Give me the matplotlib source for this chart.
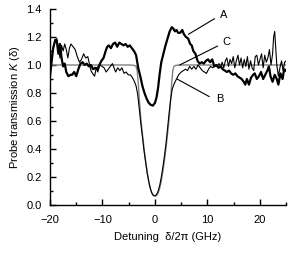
import matplotlib
matplotlib.use("Agg")
import matplotlib.pyplot as plt
from matplotlib.ticker import MultipleLocator, FormatStrFormatter

plt.rcParams['font.family'] = ['Liberation Sans', 'DejaVu Sans']
plt.rcParams['mathtext.fontset'] = 'custom'
plt.rcParams['mathtext.rm'] = 'Liberation Sans'
plt.rcParams['mathtext.it'] = 'Liberation Sans:italic'

# Curve A (thick)
a_x = [-20.0, -19.7, -19.4, -19.0, -18.7, -18.4, -18.1, -17.8, -17.5, -17.2, -16.9, -16.5, -16.1, -15.8,
       -15.4, -15.0, -14.6, -14.2, -13.8, -13.4, -13.0, -12.6, -12.2, -11.8, -11.4, -11.0, -10.6, -10.2,
       -9.8, -9.4, -9.1, -8.8, -8.4, -8.0, -7.6, -7.2, -6.8, -6.4, -6.0, -5.6, -5.2, -4.8, -4.4, -4.0,
       -3.6, -3.2, -2.8, -2.4, -2.0, -1.6, -1.2, -0.8, -0.4, 0.0, 0.3, 0.6, 0.9, 1.2, 1.6, 2.0, 2.4, 2.8,
       3.2, 3.5, 3.8, 4.1, 4.4, 4.8, 5.2, 5.5, 5.9, 6.3, 6.7, 7.0, 7.3, 7.7, 8.1, 8.5, 8.9, 9.3, 9.7,
       10.1, 10.5, 10.9, 11.3, 11.7, 12.1, 12.5, 12.9, 13.3, 13.7, 14.1, 14.5, 14.9, 15.3, 15.7, 16.1,
       16.5, 16.9, 17.2, 17.5, 17.9, 18.3, 18.7, 19.0, 19.4, 19.8, 20.2, 20.6, 21.0, 21.4, 21.7, 22.0,
       22.4, 22.8, 23.2, 23.5, 23.9, 24.3, 24.6, 24.9]
a_y = [0.92, 1.02, 1.12, 1.18, 1.17, 1.08, 1.15, 1.05, 0.99, 1.01, 0.95, 0.92, 0.93, 0.93,
       0.95, 0.92, 0.97, 1.01, 1.02, 1.00, 1.01, 0.99, 1.00, 0.97, 0.98, 0.97, 1.00, 1.03,
       1.05, 1.10, 1.13, 1.14, 1.12, 1.15, 1.16, 1.13, 1.16, 1.15, 1.14, 1.15, 1.13, 1.14, 1.12, 1.10,
       1.07, 0.98, 0.92, 0.85, 0.80, 0.76, 0.73, 0.715, 0.71, 0.73, 0.77, 0.84, 0.94, 1.02, 1.08, 1.14, 1.19, 1.24,
       1.27, 1.26, 1.24, 1.25, 1.23, 1.23, 1.25, 1.22, 1.20, 1.19, 1.15, 1.14, 1.10, 1.08, 1.03, 1.01, 1.02, 1.01, 1.03,
       1.04, 1.02, 1.04, 0.99, 1.00, 0.98, 0.99, 0.97, 0.96, 0.95, 0.96, 0.94, 0.93, 0.94, 0.92, 0.91,
       0.90, 0.88, 0.86, 0.90, 0.86, 0.91, 0.93, 0.94, 0.90, 0.92, 0.95, 0.90, 0.93, 0.96, 0.99, 0.92,
       0.88, 0.93, 0.90, 0.86, 0.94, 0.90, 0.97, 0.96]

# Curve B (thin)
b_x = [-20.0, -19.7, -19.4, -19.0, -18.7, -18.4, -18.1, -17.8, -17.5, -17.2, -16.9, -16.6, -16.3, -16.0,
       -15.6, -15.2, -14.8, -14.4, -14.0, -13.6, -13.2, -12.8, -12.5, -12.2, -11.9, -11.5, -11.2, -10.9,
       -10.5, -10.1, -9.7, -9.3, -8.9, -8.5, -8.1, -7.8, -7.5, -7.1, -6.7, -6.3, -5.9, -5.5, -5.1, -4.7,
       -4.3, -3.9, -3.6, -3.3, -3.0, -2.7, -2.4, -2.1, -1.8, -1.5, -1.2, -0.9, -0.6, -0.3, 0.0, 0.3, 0.6,
       0.9, 1.2, 1.5, 1.8, 2.1, 2.4, 2.7, 3.0, 3.3, 3.7, 4.1, 4.5, 5.0, 5.4, 5.8, 6.2, 6.6, 7.0, 7.4, 7.8,
       8.2, 8.6, 9.0, 9.4, 9.8, 10.2, 10.6, 11.0, 11.4, 11.8, 12.2, 12.5, 12.8, 13.1, 13.4, 13.7, 14.0,
       14.3, 14.6, 14.9, 15.2, 15.5, 15.8, 16.1, 16.4, 16.7, 17.0, 17.3, 17.6, 17.9, 18.2, 18.5, 18.8,
       19.1, 19.4, 19.7, 20.0, 20.3, 20.6, 20.9, 21.2, 21.5, 21.8, 22.1, 22.4, 22.6, 22.8, 23.0, 23.2,
       23.5, 23.8, 24.1, 24.4, 24.7, 25.0]
b_y = [0.97, 1.05, 1.12, 1.17, 1.19, 1.12, 1.05, 1.14, 1.10, 1.15, 1.11, 1.05, 1.12, 1.15,
       1.13, 1.11, 1.06, 1.02, 1.04, 1.08, 1.05, 1.06, 1.01, 0.96, 0.94, 0.92, 0.98, 0.95,
       1.00, 0.99, 0.98, 0.95, 0.97, 0.99, 1.01, 0.98, 0.95, 0.98, 0.96, 0.98, 0.94, 0.95, 0.93, 0.93,
       0.91, 0.88, 0.85, 0.79, 0.69, 0.58, 0.49, 0.39, 0.31, 0.23, 0.17, 0.12, 0.085, 0.068, 0.065, 0.075, 0.10,
       0.14, 0.20, 0.27, 0.35, 0.44, 0.55, 0.66, 0.76, 0.83, 0.87, 0.90, 0.93, 0.95, 0.96, 0.97, 0.96, 0.99, 0.97, 0.99, 0.97,
       1.00, 0.98, 0.96, 0.95, 0.94, 0.97, 0.99, 0.98, 1.00, 0.99, 1.01, 0.99, 1.02, 0.98, 1.03, 1.05, 0.99,
       1.04, 1.01, 1.06, 0.98, 1.03, 1.07, 1.00, 1.05, 0.98, 1.04, 0.99, 1.06, 0.97, 1.03, 0.98, 0.96,
       1.06, 1.07, 1.00, 1.04, 1.08, 0.98, 1.07, 1.02, 1.05, 1.11, 1.00, 1.08, 1.20, 1.24, 1.12, 1.00,
       0.92, 0.98, 1.03, 0.96, 1.02, 1.03]

# Curve C (smooth, gray)
c_x = [-20.0, -5.0, -4.0, -3.6, -3.4, -3.2, -3.0, -2.7, -2.4, -2.1, -1.8, -1.5, -1.2, -0.9, -0.6, -0.3, 0.0,
       0.3, 0.6, 0.9, 1.2, 1.5, 1.8, 2.1, 2.4, 2.7, 3.0, 3.2, 3.4, 3.6, 4.0, 5.0, 25.0]
c_y = [1.0, 1.0, 0.998, 0.99, 0.96, 0.88, 0.76, 0.62, 0.51, 0.41, 0.32, 0.24, 0.17, 0.12, 0.085, 0.068, 0.064,
       0.068, 0.085, 0.12, 0.17, 0.24, 0.32, 0.41, 0.51, 0.62, 0.76, 0.88, 0.96, 0.99, 0.998, 1.0, 1.0]

labels = ["A", "B", "C"]
label_pos = [(12.3, 1.355), (11.6, 0.755), (12.8, 1.165)]
pointer_from = [(11.3, 1.33), (10.3, 0.775), (11.9, 1.135)]
pointer_to = [(6.4, 1.22), (4.2, 0.90), (4.7, 1.0)]

fig = plt.figure(figsize=(2.95, 2.57), dpi=100)
ax = fig.add_axes([0.1695, 0.2023, 0.8008, 0.7627])

ax.plot(c_x, c_y, color='#808080', lw=1.0)
ax.plot(b_x, b_y, color='black', lw=0.8)
ax.plot(a_x, a_y, color='black', lw=1.6)

for lab, (tx, ty), (fx, fy), (px, py) in zip(labels, label_pos, pointer_from, pointer_to):
    ax.plot([fx, px], [fy, py], color='black', lw=0.8)
    ax.text(tx, ty, lab, fontsize=8, ha='left', va='center')

ax.set_xlim(-20, 25)
ax.set_ylim(0.0, 1.4)
ax.xaxis.set_major_locator(MultipleLocator(10))
ax.xaxis.set_minor_locator(MultipleLocator(5))
ax.yaxis.set_major_locator(MultipleLocator(0.2))
ax.yaxis.set_minor_locator(MultipleLocator(0.1))
ax.yaxis.set_major_formatter(FormatStrFormatter('%.1f'))
ax.tick_params(which='both', direction='in', labelsize=8, width=1.0)
ax.tick_params(which='major', length=4)
ax.tick_params(axis='x', which='major', pad=7)
ax.tick_params(axis='y', which='major', pad=6)
ax.tick_params(which='minor', length=2.5)
for s in ['top', 'right']:
    ax.spines[s].set_visible(False)
for s in ['left', 'bottom']:
    ax.spines[s].set_linewidth(1.0)

ax.set_xlabel('Detuning  δ/2π (GHz)', fontsize=8, labelpad=5)
ax.set_ylabel('Probe transmission $K$ (δ)', fontsize=8, labelpad=3)

fig.savefig('out.png', dpi=100)
